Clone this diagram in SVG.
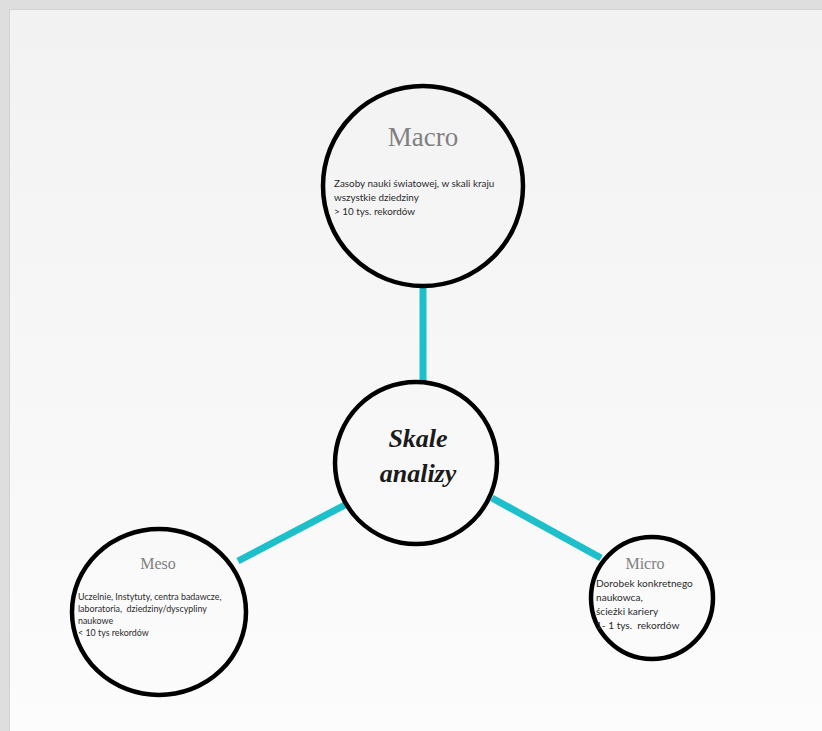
<svg xmlns="http://www.w3.org/2000/svg" width="822" height="731" viewBox="0 0 822 731">
<defs>
<linearGradient id="bg" x1="0" y1="0" x2="0" y2="1">
<stop offset="0" stop-color="#f2f2f2"/>
<stop offset="1" stop-color="#fcfcfc"/>
</linearGradient>
<style>
.node{fill:none;stroke:#000;stroke-width:4.5}
.conn{stroke:#1cbfca;stroke-width:7;stroke-linecap:butt;fill:none}
.title{font-family:"Liberation Serif",serif;fill:#808080;text-anchor:middle}
.body{font-family:Lato,"Liberation Sans",sans-serif;fill:#2a2a2a;white-space:pre}
.center{font-family:"Liberation Serif",serif;font-style:italic;font-weight:bold;fill:#1a1a1a;text-anchor:middle;font-size:26px}
</style>
</defs>
<rect x="0" y="0" width="822" height="731" fill="#dedede"/>
<rect x="9.5" y="9.5" width="820" height="730" fill="url(#bg)" stroke="#d2d2d2" stroke-width="1"/>
<g id="connectors">
<line class="conn" x1="423" y1="288" x2="423" y2="381"/>
<line class="conn" x1="345" y1="505" x2="238" y2="561"/>
<line class="conn" x1="492" y1="498" x2="601" y2="558"/>
</g>
<g id="macro">
<circle class="node" cx="423" cy="186" r="100"/>
<text class="title" x="423" y="146" font-size="27">Macro</text>
<text class="body" font-size="9.9"><tspan x="334" y="187">Zasoby nauki światowej, w skali kraju</tspan><tspan x="334" y="201">wszystkie dziedziny</tspan><tspan x="334" y="215">&gt; 10 tys. rekordów</tspan></text>
</g>
<g id="skale">
<circle class="node" cx="416" cy="463" r="81"/>
<text class="center" x="418" y="447">Skale</text>
<text class="center" x="418" y="482">analizy</text>
</g>
<g id="meso">
<ellipse class="node" cx="159" cy="612" rx="87" ry="83"/>
<text class="title" x="158" y="569" font-size="16">Meso</text>
<text class="body" font-size="8.9"><tspan x="78" y="600">Uczelnie, Instytuty, centra badawcze,</tspan><tspan x="78" y="612">laboratoria,  dziedziny/dyscypliny</tspan><tspan x="78" y="624">naukowe</tspan><tspan x="78" y="636">&lt; 10 tys rekordów</tspan></text>
</g>
<g id="micro">
<circle class="node" cx="652" cy="598" r="61"/>
<text class="title" x="645" y="569" font-size="16">Micro</text>
<text class="body" font-size="10.1"><tspan x="596" y="587">Dorobek konkretnego</tspan><tspan x="596" y="601">naukowca,</tspan><tspan x="596" y="615">ścieżki kariery</tspan><tspan x="596" y="629">1- 1 tys.  rekordów</tspan></text>
</g>
</svg>
